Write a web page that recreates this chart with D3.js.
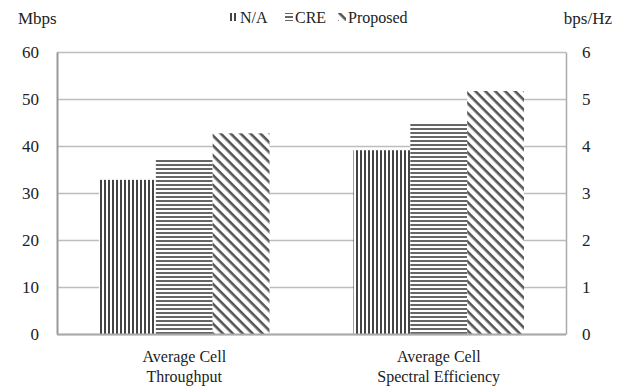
<!DOCTYPE html>
<html lang="en">
    <head>
        <meta charset="utf-8">
        <title>Cell throughput / spectral efficiency</title>
        <script type="text/javascript" src="https://d3js.org/d3.v7.min.js"></script>
        <style>
            body { margin: 0; background: #fff; }
        </style>
    </head>
    <body>
        <script>
            // data
            const categories = ["Average Cell\nThroughput", "Average Cell\nSpectral Efficiency"];
            const series = ["N/A", "CRE", "Proposed"];
            const throughput = [32.8, 37.2, 42.7];      // Mbps, left axis
            const spectralEff = [3.91, 4.48, 5.17];     // bps/Hz, right axis
            const leftTicks = [0, 10, 20, 30, 40, 50, 60];
            const rightTicks = [0, 1, 2, 3, 4, 5, 6];

            const FONT = "'Liberation Serif', 'Tinos', 'Times New Roman', 'DejaVu Serif', serif";

            const w = 622;
            const h = 392;
            const margin = {top: 52, right: 56, bottom: 58, left: 57};

            const svg = d3.select("body")
                        .append("svg")
                        .attr("width", w)
                        .attr("height", h);

            // patterns
            const defs = svg.append("defs");
            const vert = defs.append("pattern").attr("id", "p-vert")
                .attr("patternUnits", "userSpaceOnUse").attr("width", 4).attr("height", 4);
            vert.append("rect").attr("width", 4).attr("height", 4).attr("fill", "#fff");
            vert.append("rect").attr("x", 0).attr("width", 2).attr("height", 4).attr("fill", "#444");

            const horiz = defs.append("pattern").attr("id", "p-horiz")
                .attr("patternUnits", "userSpaceOnUse").attr("width", 4).attr("height", 4);
            horiz.append("rect").attr("width", 4).attr("height", 4).attr("fill", "#fff");
            horiz.append("rect").attr("y", 0).attr("width", 4).attr("height", 2).attr("fill", "#666");

            const diag = defs.append("pattern").attr("id", "p-diag")
                .attr("patternUnits", "userSpaceOnUse").attr("width", 7).attr("height", 7)
                .attr("patternTransform", "rotate(45)");
            diag.append("rect").attr("width", 7).attr("height", 7).attr("fill", "#fff");
            diag.append("rect").attr("width", 7).attr("height", 2.6).attr("fill", "#555");

            const fills = ["url(#p-vert)", "url(#p-horiz)", "url(#p-diag)"];

            // scales
            const x0 = d3.scaleBand()
                .domain(d3.range(categories.length))
                .range([margin.left, w - margin.right])
                .paddingInner(0.33)
                .paddingOuter(0.165);
            const x1 = d3.scaleBand()
                .domain(d3.range(series.length))
                .range([0, x0.bandwidth()]);
            const yL = d3.scaleLinear().domain([0, 60]).range([h - margin.bottom, margin.top]);
            const yR = d3.scaleLinear().domain([0, 6]).range([h - margin.bottom, margin.top]);

            // gridlines
            svg.append("g")
                .selectAll("line")
                .data(leftTicks)
                .join("line")
                .attr("x1", margin.left).attr("x2", w - margin.right)
                .attr("y1", d => yL(d) + 0.5).attr("y2", d => yL(d) + 0.5)
                .attr("stroke", "#bdbdbd").attr("stroke-width", 1.5);

            // bars
            const groups = [throughput, spectralEff];
            const scales = [yL, yR];
            groups.forEach(function(vals, gi) {
                svg.append("g")
                    .selectAll("rect")
                    .data(vals)
                    .join("rect")
                    .attr("x", (d, i) => x0(gi) + x1(i))
                    .attr("width", x1.bandwidth())
                    .attr("y", d => scales[gi](d))
                    .attr("height", d => scales[gi](0) - scales[gi](d))
                    .attr("fill", (d, i) => fills[i]);
            });

            // axes
            const leftAxis = d3.axisLeft(yL).tickValues(leftTicks).tickSize(0).tickPadding(18);
            const rightAxis = d3.axisRight(yR).tickValues(rightTicks).tickSize(0).tickPadding(16)
                .tickFormat(d3.format("d"));

            const gl = svg.append("g")
                .attr("transform", `translate(${margin.left},0)`)
                .call(leftAxis);
            gl.select(".domain").attr("stroke", "#999").attr("stroke-width", 2);

            const gr = svg.append("g")
                .attr("transform", `translate(${w - margin.right},0)`)
                .call(rightAxis);
            gr.select(".domain").attr("stroke", "#aaa").attr("stroke-width", 1.5);

            // bottom line
            svg.append("line")
                .attr("x1", margin.left).attr("x2", w - margin.right)
                .attr("y1", yL(0) + 0.5).attr("y2", yL(0) + 0.5)
                .attr("stroke", "#aaa").attr("stroke-width", 2);

            // category labels
            categories.forEach(function(c, i) {
                const t = svg.append("text")
                    .attr("text-anchor", "middle")
                    .attr("font-size", 16);
                c.split("\n").forEach(function(line, j) {
                    t.append("tspan")
                        .attr("x", x0(i) + x0.bandwidth() / 2)
                        .attr("y", 362 + j * 20)
                        .text(line);
                });
            });

            // axis unit labels
            svg.append("text").attr("x", 18).attr("y", 24).attr("font-size", 17).text("Mbps");
            svg.append("text").attr("x", 612).attr("y", 24).attr("font-size", 17)
                .attr("text-anchor", "end").text("bps/Hz");

            // legend
            const legendX = [230, 285, 338];
            const lg = svg.append("g");
            series.forEach(function(s, i) {
                const item = lg.append("g").attr("transform", `translate(${legendX[i]},0)`);
                item.append("rect")
                    .attr("x", 0).attr("y", 13).attr("width", 8).attr("height", 8)
                    .attr("fill", fills[i]);
                item.append("text")
                    .attr("x", 10).attr("y", 23).attr("font-size", 16)
                    .text(s);
            });

            // serif font everywhere (axis groups set their own sans-serif)
            svg.selectAll("text")
                .style("font-family", FONT)
                .style("fill", "#222");
            svg.selectAll(".tick text").style("font-size", "17px");
        </script>
    </body>
</html>
